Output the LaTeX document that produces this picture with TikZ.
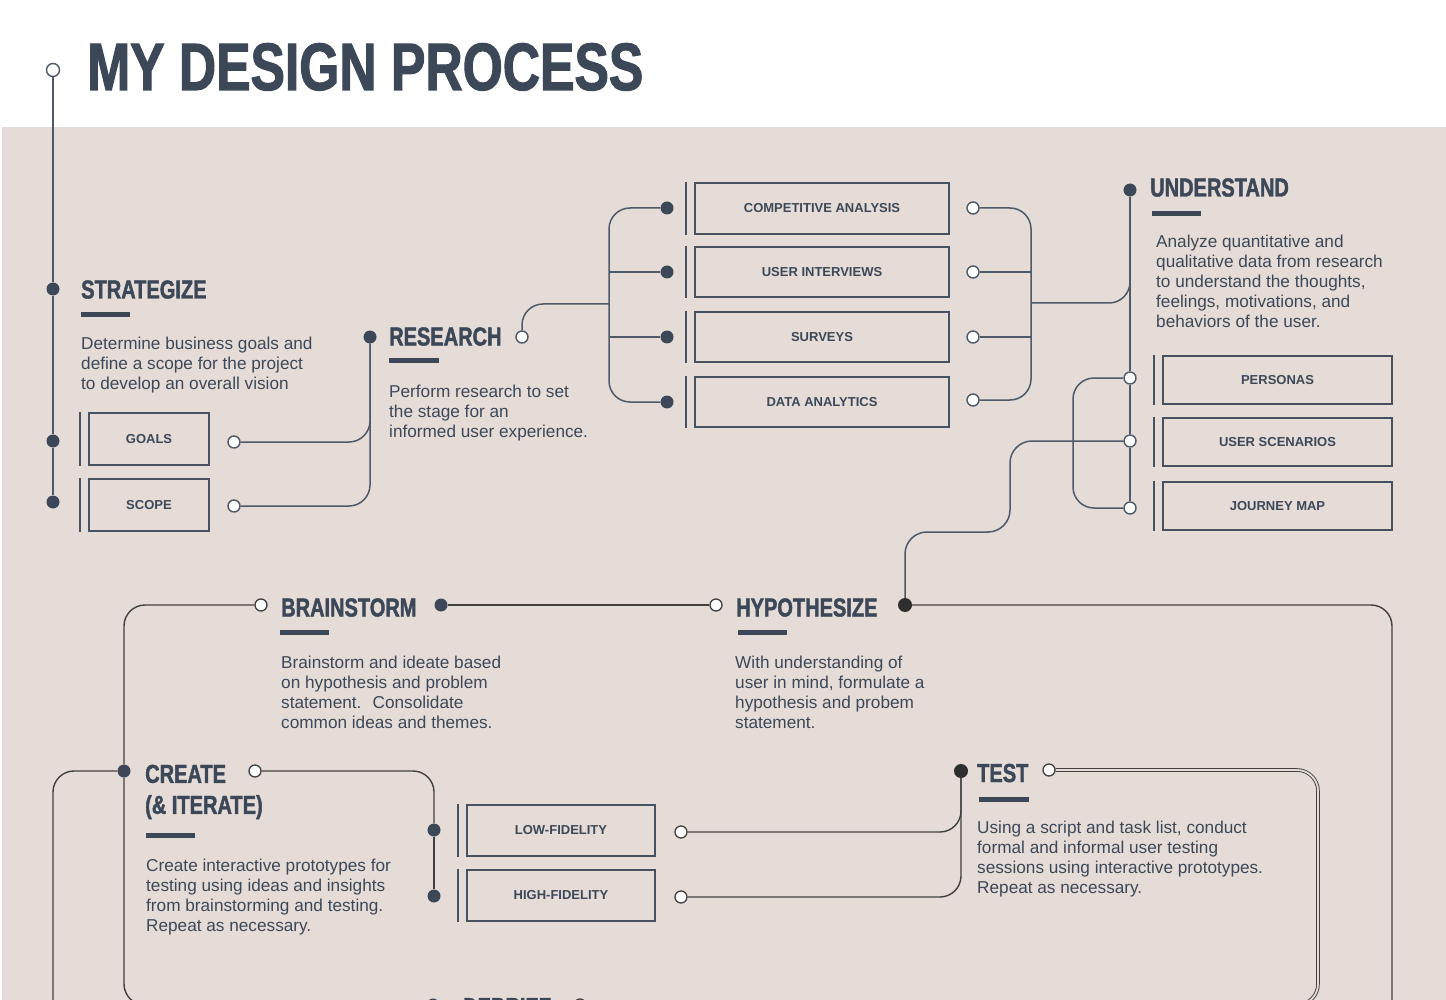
\documentclass[tikz,border=0pt]{standalone}
\usepackage{fontspec}
\setmainfont{Liberation Sans}
\newfontfamily\headfont[FakeStretch=0.77,BoldFeatures={FakeBold=1.6}]{Liberation Sans}
\usetikzlibrary{calc}
\definecolor{bgbeige}{HTML}{E5DCD7}
\definecolor{slate}{HTML}{3C4858}
\definecolor{lineslate}{HTML}{4E5A69}
\definecolor{boxc}{HTML}{46525F}
\definecolor{darkln}{HTML}{404040}
\definecolor{darkdot}{HTML}{2E2E2E}
\pgfdeclarelayer{bg}
\pgfsetlayers{bg,main}
\begin{document}
\begin{tikzpicture}[x=1pt,y=-1pt,
  dotn/.style={circle,fill=slate,minimum size=13pt,inner sep=0pt},
  ddot/.style={circle,fill=darkdot,minimum size=14pt,inner sep=0pt},
  ocirc/.style={circle,draw=lineslate,line width=1.4pt,fill=white,minimum size=12pt,inner sep=0pt},
  ocirctwo/.style={circle,draw=darkln,line width=1.3pt,fill=white,minimum size=12pt,inner sep=0pt},
  headn/.style={anchor=base west,inner sep=0pt,text=slate,font=\headfont\bfseries\fontsize{26}{30}\selectfont},
  bodyn/.style={anchor=north west,inner sep=0pt,align=left,text=slate,font=\fontsize{17.2}{20}\selectfont},
  boxn/.style={draw=boxc,line width=2.2pt,inner sep=0pt,text=slate,font=\bfseries\fontsize{13}{15}\selectfont},
  boxlab/.style={yshift=-1pt},
  sidebar/.style={draw=boxc,line width=1.4pt},
  ln/.style={draw=lineslate,line width=1.5pt},
  dln/.style={draw=darkln,line width=1.4pt},
  dbl/.style={draw=darkln,line width=0.9pt,double=bgbeige,double distance=1.8pt},
  rc/.style={rounded corners=21pt}
]
\useasboundingbox (0,0) rectangle (1446,1000);

% title
\node[anchor=base west,inner sep=0pt,text=slate,font=\headfont\bfseries\fontsize{67}{70}\selectfont] (title) at (87,90) {MY DESIGN PROCESS};

% strategize
\node[ocirc,minimum size=13pt] (ttop) at (53,70) {};
\node[dotn] (sdot) at (53,289) {};
\node[dotn] (gdot) at (53,441) {};
\node[dotn] (scdot) at (53,502) {};
\node[headn] (hstrat) at (81,298.5) {STRATEGIZE};
\fill[slate] (81,312) rectangle (130,317);
\node[bodyn] (bstrat) at (81,336.6) {Determine business goals and\\define a scope for the project\\to develop an overall vision};
\node[boxn,minimum width=120pt,minimum height=52pt] (goals) at (149,439) {\raisebox{-1pt}{GOALS}};
\node[boxn,minimum width=120pt,minimum height=52pt] (scope) at (149,505) {\raisebox{-1pt}{SCOPE}};
\node[ocirc] (goalsC) at (234,442) {};
\node[ocirc] (scopeC) at (234,506) {};

% research
\node[dotn] (rdot) at (370,337) {};
\node[headn] (hres) at (389,345.5) {RESEARCH};
\node[ocirc] (rC) at (522,337) {};
\fill[slate] (389,358) rectangle (439,363);
\node[bodyn] (bres) at (389,384.6) {Perform research to set\\the stage for an\\informed user experience.};
\coordinate (tk) at (609,304);
\node[dotn] (caD) at (667,208) {};
\node[dotn] (uiD) at (667,272) {};
\node[dotn] (svD) at (667,337) {};
\node[dotn] (daD) at (667,402) {};
\node[boxn,minimum width=254pt,minimum height=51pt] (ca) at (822,208.5) {\raisebox{-1.5pt}{COMPETITIVE ANALYSIS}};
\node[boxn,minimum width=254pt,minimum height=50pt] (ui) at (822,272) {\raisebox{-1.5pt}{USER INTERVIEWS}};
\node[boxn,minimum width=254pt,minimum height=50pt] (sv) at (822,337) {\raisebox{-1.5pt}{SURVEYS}};
\node[boxn,minimum width=254pt,minimum height=50pt] (da) at (822,402) {\raisebox{-1.5pt}{DATA ANALYTICS}};
\node[ocirc] (caC) at (973,208) {};
\node[ocirc] (uiC) at (973,272) {};
\node[ocirc] (svC) at (973,337) {};
\node[ocirc] (daC) at (973,400) {};
\coordinate (tk2) at (1031,303);

% understand
\node[dotn] (udot) at (1130,190) {};
\node[headn] (hund) at (1150,196.5) {UNDERSTAND};
\fill[slate] (1152,211) rectangle (1201,216);
\node[bodyn] (bund) at (1156,234.6) {Analyze quantitative and\\qualitative data from research\\to understand the thoughts,\\feelings, motivations, and\\behaviors of the user.};
\node[boxn,minimum width=229pt,minimum height=48pt] (pe) at (1277.5,380) {\raisebox{-1.5pt}{PERSONAS}};
\node[boxn,minimum width=229pt,minimum height=48pt] (us) at (1277.5,442) {\raisebox{-1.5pt}{USER SCENARIOS}};
\node[boxn,minimum width=229pt,minimum height=48pt] (jm) at (1277.5,506) {\raisebox{-1.5pt}{JOURNEY MAP}};
\node[ocirc] (peC) at (1130,378) {};
\node[ocirc] (usC) at (1130,441) {};
\node[ocirc] (jmC) at (1130,508) {};
\coordinate (lp) at (1073,443);

% hypothesize
\node[ddot] (hdot) at (905,605) {};
\node[ocirctwo] (hC) at (716,605) {};
\node[headn] (hhyp) at (736,616.5) {HYPOTHESIZE};
\fill[slate] (738,630) rectangle (787,635);
\node[bodyn] (bhyp) at (735,655.6) {With understanding of\\user in mind, formulate a\\hypothesis and probem\\statement.};

% brainstorm
\node[ocirctwo] (bC) at (261,605) {};
\node[dotn] (bdot) at (441,605) {};
\node[headn] (hbra) at (281,616.5) {BRAINSTORM};
\fill[slate] (280,630) rectangle (329,635);
\node[bodyn] (bbra) at (281,655.6) {Brainstorm and ideate based\\on hypothesis and problem\\statement.~ Consolidate\\common ideas and themes.};

% create
\node[dotn] (cdot) at (124,771) {};
\node[ocirctwo] (crC) at (255,771) {};
\node[anchor=north west,inner sep=0pt,align=left,text=slate,font=\headfont\bfseries\fontsize{26}{31}\selectfont] (hcre) at (145,764.5) {CREATE\\(\& ITERATE)};
\fill[slate] (146,833) rectangle (195,838);
\node[bodyn] (bcre) at (146,858.6) {Create interactive prototypes for\\testing using ideas and insights\\from brainstorming and testing.\\Repeat as necessary.};
\node[dotn] (lfD) at (434,830) {};
\node[dotn] (hfD) at (434,896) {};
\node[boxn,minimum width=188pt,minimum height=51pt] (lf) at (561,830.5) {\raisebox{-1.5pt}{LOW-FIDELITY}};
\node[boxn,minimum width=188pt,minimum height=51pt] (hf) at (561,895.5) {\raisebox{-1.5pt}{HIGH-FIDELITY}};
\node[ocirctwo] (lfC) at (681,832) {};
\node[ocirctwo] (hfC) at (681,897) {};

% test
\node[ddot] (tdot) at (961,771) {};
\node[ocirctwo] (tC) at (1049,770) {};
\node[headn] (htes) at (977,782) {TEST};
\fill[slate] (979,796.5) rectangle (1029,801.5);
\node[bodyn] (btes) at (977,820.6) {Using a script and task list, conduct\\formal and informal user testing\\sessions using interactive prototypes.\\Repeat as necessary.};

% debrief (cut by page edge)
\node[dotn] (debD) at (433,1005) {};
\node[headn] (hdeb) at (463,1016) {DEBRIEF};
\node[ocirctwo] (debC) at (580,1005) {};
\coordinate (rb) at (1392,1012);
\coordinate (lb) at (53,1012);

% side bars
\foreach \b in {goals,scope,ca,ui,sv,da,pe,us,jm,lf,hf}
  \draw[sidebar] ([xshift=-8pt]\b.north west) -- ([xshift=-8pt]\b.south west);

\begin{pgfonlayer}{bg}
  \fill[white] (0,0) rectangle (1446,1000);
  \fill[bgbeige] (2,127) rectangle (1446,1000);
  \draw[ln] (ttop) -- (sdot) -- (gdot) -- (scdot);
  \draw[ln,rc] (goalsC) -| (rdot);
  \draw[ln,rc] (scopeC) -| (rdot);
  \draw[ln,rc] (rC) |- (tk);
  \draw[ln,rc] (caD) -| (tk) |- (daD);
  \draw[ln] (uiD) -- (uiD -| tk);
  \draw[ln] (svD) -- (svD -| tk);
  \draw[ln,rc] (caC) -| (tk2) |- (daC);
  \draw[ln] (uiC) -- (uiC -| tk2);
  \draw[ln] (svC) -- (svC -| tk2);
  \draw[ln,rc] (tk2) -| (udot);
  \draw[ln] (udot) -- (peC) -- (usC) -- (jmC);
  \draw[ln,rc] (peC) -| (lp) |- (jmC);
  \draw[ln,rounded corners=22pt] (usC) -| (1010,532) -| (hdot);
  \draw[dln,rc] (hdot) -| (rb);
  \draw[dln] (bdot) -- (hC);
  \draw[dln,rc] (bC) -| (cdot);
  \draw[dln,rc] (cdot) |- (debD);
  \draw[dln,rc] (cdot) -| (lb);
  \draw[dln,rc] (crC) -| (lfD);
  \draw[dln] (lfD) -- (hfD);
  \draw[dln,rc] (lfC) -| (tdot);
  \draw[dln,rc] (hfC) -| (tdot);
  \draw[dbl,rc] (tC) -| (1318,1005) -- (debC);
\end{pgfonlayer}
\end{tikzpicture}
\end{document}
